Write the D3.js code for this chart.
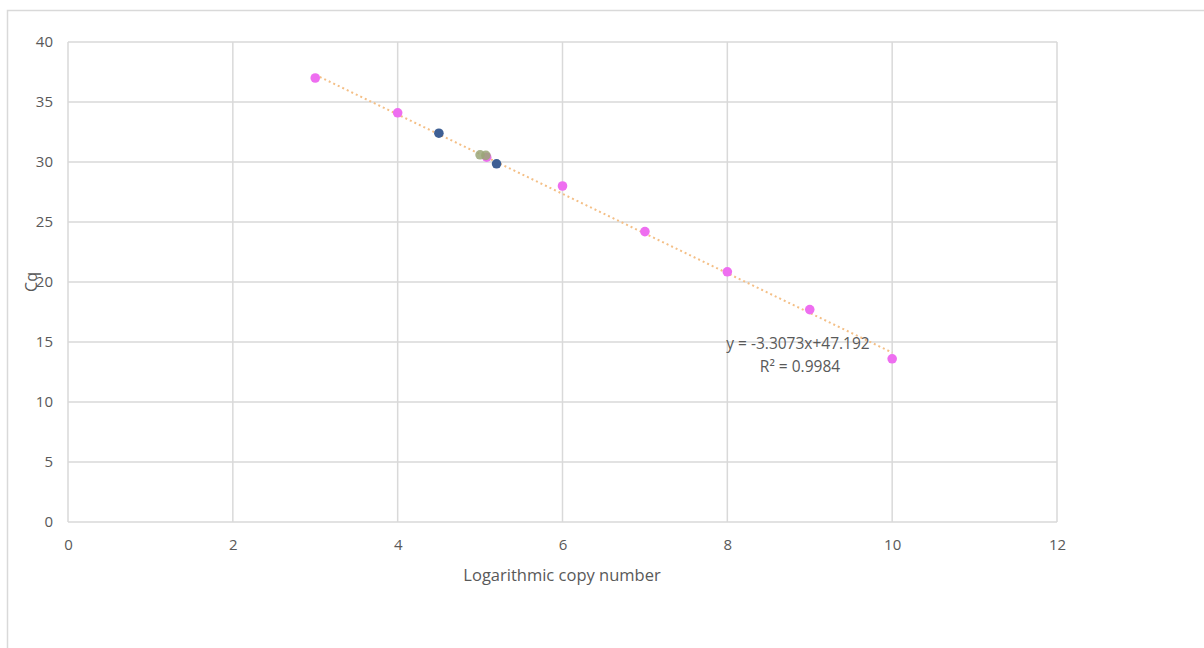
<!DOCTYPE html>
<html>
<head>
<meta charset="utf-8">
<script src="https://cdn.jsdelivr.net/npm/d3@7"></script>
<style>
  body { margin: 0; background: #fff; }
  text { font-family: "Open Sans", "Liberation Sans", sans-serif; fill: #595959; }
</style>
</head>
<body>
<svg id="chart" width="1204" height="648"></svg>
<script>
// standard curve points (pink)
const standardX = [3, 4, 5.08, 6, 7, 8, 9, 10];
const standardCq = [37.0, 34.1, 30.4, 28.0, 24.2, 20.85, 17.7, 13.6];
// samples (blue)
const sampleX = [4.5, 5.2];
const sampleCq = [32.4, 29.85];
// samples (green)
const otherX = [5.0, 5.07];
const otherCq = [30.6, 30.55];

const slope = -3.3073;
const intercept = 47.192;
const rSquared = 0.9984;

const xTicks = [0, 2, 4, 6, 8, 10, 12];
const yTicks = [0, 5, 10, 15, 20, 25, 30, 35, 40];

const svg = d3.select("#chart");

const plot = { left: 68, right: 1057, top: 42, bottom: 522 };

const x = d3.scaleLinear().domain([0, 12]).range([plot.left, plot.right]);
const y = d3.scaleLinear().domain([0, 40]).range([plot.bottom, plot.top]);

// outer chart frame
svg.append("rect")
    .attr("x", 7.5)
    .attr("y", 10.5)
    .attr("width", 1300)
    .attr("height", 700)
    .attr("fill", "none")
    .attr("stroke", "#d9d9d9")
    .attr("stroke-width", 1.5);

// gridlines
svg.append("g")
    .selectAll("line")
    .data(yTicks)
    .join("line")
    .attr("x1", plot.left)
    .attr("x2", plot.right)
    .attr("y1", d => y(d))
    .attr("y2", d => y(d))
    .attr("stroke", "#d9d9d9")
    .attr("stroke-width", 1.5);

svg.append("g")
    .selectAll("line")
    .data(xTicks)
    .join("line")
    .attr("x1", d => x(d))
    .attr("x2", d => x(d))
    .attr("y1", plot.top)
    .attr("y2", plot.bottom)
    .attr("stroke", "#d9d9d9")
    .attr("stroke-width", 1.5);

// axes
const xAxis = svg.append("g")
    .attr("transform", "translate(0," + (plot.bottom + 15) + ")")
    .call(d3.axisBottom(x).tickValues(xTicks).tickSize(0).tickPadding(2));
xAxis.select(".domain").remove();
xAxis.selectAll("text").style("font-size", "15px").attr("fill", "#595959");

const yAxis = svg.append("g")
    .attr("transform", "translate(" + (plot.left - 15) + ",0)")
    .call(d3.axisLeft(y).tickValues(yTicks).tickSize(0).tickPadding(0));
yAxis.select(".domain").remove();
yAxis.selectAll("text").style("font-size", "15px").attr("fill", "#595959");

// axis titles
svg.append("text")
    .attr("x", 562)
    .attr("y", 581)
    .attr("text-anchor", "middle")
    .style("font-size", "16.5px")
    .text("Logarithmic copy number");

svg.append("text")
    .attr("transform", "translate(37," + ((plot.top + plot.bottom) / 2) + ") rotate(-90)")
    .attr("text-anchor", "middle")
    .style("font-size", "16px")
    .text("Cq");

// linear trendline
const lineX = [d3.min(standardX), d3.max(standardX)];
svg.append("line")
    .attr("x1", x(lineX[0]))
    .attr("y1", y(slope * lineX[0] + intercept))
    .attr("x2", x(lineX[1]))
    .attr("y2", y(slope * lineX[1] + intercept))
    .attr("stroke", "#f4bf86")
    .attr("stroke-width", 2)
    .attr("stroke-dasharray", "2,3");

function drawPoints(xs, ys, color, opacity) {
    svg.append("g")
        .selectAll("circle")
        .data(xs.map((d, i) => [d, ys[i]]))
        .join("circle")
        .attr("cx", d => x(d[0]))
        .attr("cy", d => y(d[1]))
        .attr("r", 4.8)
        .attr("fill", color)
        .attr("fill-opacity", opacity);
}

drawPoints(standardX, standardCq, "#ee6ef0", 1);
drawPoints(sampleX, sampleCq, "#3e5f94", 1);
drawPoints(otherX, otherCq, "#9aa678", 0.85);

// equation label
svg.append("text")
    .attr("x", 798)
    .attr("y", 349)
    .attr("text-anchor", "middle")
    .style("font-size", "15.5px")
    .text("y = -3.3073x+47.192");

svg.append("text")
    .attr("x", 800)
    .attr("y", 372)
    .attr("text-anchor", "middle")
    .style("font-size", "15.5px")
    .text("R² = " + rSquared);
</script>
</body>
</html>
